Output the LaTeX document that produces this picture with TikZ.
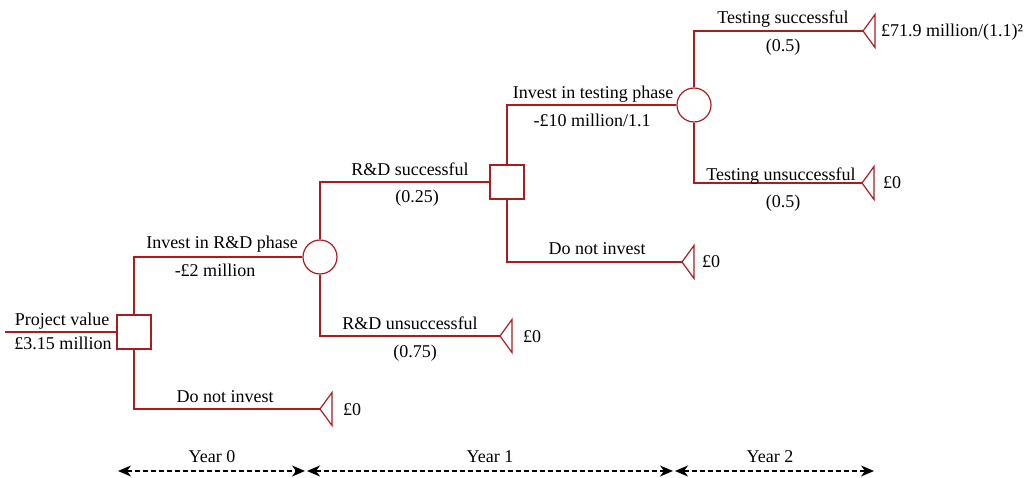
\documentclass[tikz,border=0pt]{standalone}
\usepackage{fontspec}
\setmainfont{Liberation Serif}
\usetikzlibrary{arrows.meta,calc}
\definecolor{tree}{RGB}{170,28,30}
\newcommand\payoff[1]{\draw[branch,fill=white,line join=miter] (#1) -- ++(12,-16.5) -- ++(0,33) -- cycle;}
\begin{document}
\begin{tikzpicture}[x=1pt,y=-1pt,
  branch/.style={draw=tree,line width=1.2pt},
  decision/.style={draw=tree,line width=1.3pt,fill=white,rectangle,minimum size=34pt,inner sep=0pt},
  chance/.style={draw=tree,line width=1.2pt,fill=white,circle,minimum size=34pt,inner sep=0pt},
  lbl/.style={font=\fontsize{18}{21}\selectfont,anchor=base,inner sep=0pt},
  val/.style={font=\fontsize{18}{21}\selectfont,anchor=base west,inner sep=0pt},
  yearhead/.tip={Stealth[length=13pt,width=11pt,inset=4pt]},
  span/.style={line width=1.2pt,dash pattern=on 5pt off 3pt,arrows={yearhead-yearhead}}
]
\useasboundingbox (0,0) rectangle (1031,478);

% decision and chance nodes
\coordinate (start) at (5,332);
\node[decision] (d0) at (134,332) {};
\node[chance]   (c1) at (320,257) {};
\node[decision] (d1) at (507,182) {};
\node[chance]   (c2) at (694,105) {};

% end points of the branches
\coordinate (t0) at (320,409);
\coordinate (t1) at (500,336);
\coordinate (t2) at (682,262);
\coordinate (t3) at (863,31);
\coordinate (t4) at (862,183);

% branches
\draw[branch] (start) -- (d0.west);
\draw[branch] (d0.north) |- (c1.west);
\draw[branch] (d0.south) |- (t0);
\draw[branch] (c1.north) |- (d1.west);
\draw[branch] (c1.south) |- (t1);
\draw[branch] (d1.north) |- (c2.west);
\draw[branch] (d1.south) |- (t2);
\draw[branch] (c2.north) |- (t3);
\draw[branch] (c2.south) |- (t4);

% terminal triangles
\payoff{t0}\payoff{t1}\payoff{t2}\payoff{t3}\payoff{t4}

% branch labels
\node[lbl] (l1) at (62,326) {Project value};
\node[lbl] (l2) at (63,349) {£3.15 million};
\node[lbl] (l3) at (222,249) {Invest in R\&D phase};
\node[lbl] (l4) at (215,277) {-£2 million};
\node[lbl] (l5) at (225,402) {Do not invest};
\node[lbl] (l6) at (410,176) {R\&D successful};
\node[lbl] (l7) at (417,203) {(0.25)};
\node[lbl] (l8) at (410,330) {R\&D unsuccessful};
\node[lbl] (l9) at (415,357) {(0.75)};
\node[lbl] (l10) at (593,99) {Invest in testing phase};
\node[lbl] (l11) at (592,127) {-£10 million/1.1};
\node[lbl] (l12) at (597,255) {Do not invest};
\node[lbl] (l13) at (783,24) {Testing successful};
\node[lbl] (l14) at (783,52) {(0.5)};
\node[lbl] (l15) at (781,181) {Testing unsuccessful};
\node[lbl] (l16) at (783,208) {(0.5)};

% payoffs
\node[val] (v0) at ($(t0)+(23,6)$) {£0};
\node[val] (v1) at ($(t1)+(23,6)$) {£0};
\node[val] (v2) at ($(t2)+(20,6)$) {£0};
\node[val] (v3) at ($(t3)+(18,6)$) {£71.9 million/(1.1)²};
\node[val] (v4) at ($(t4)+(21,6)$) {£0};

% time axis
\coordinate (y0a) at (118,471);
\coordinate (y0b) at (305,471);
\coordinate (y1a) at (307,471);
\coordinate (y1b) at (673,471);
\coordinate (y2a) at (675,471);
\coordinate (y2b) at (874,471);
\draw[span] (y0a) -- (y0b);
\draw[span] (y1a) -- (y1b);
\draw[span] (y2a) -- (y2b);
\node[lbl] (yr0) at (212,462) {Year 0};
\node[lbl] (yr1) at (490,462) {Year 1};
\node[lbl] (yr2) at (770,462) {Year 2};
\end{tikzpicture}
\end{document}
